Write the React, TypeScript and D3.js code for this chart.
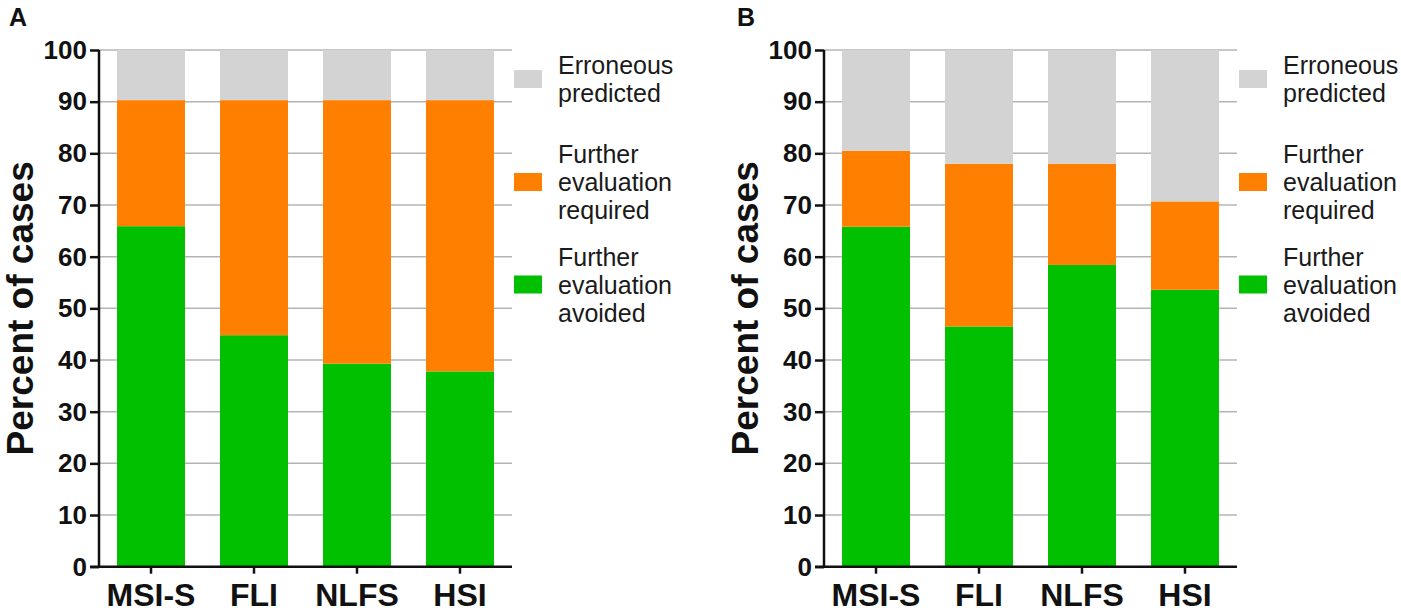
import React, { useRef, useEffect } from 'react';
import * as d3 from 'd3';

const categories = ['MSI-S', 'FLI', 'NLFS', 'HSI'];
const seriesKeys = ['avoided', 'required', 'erroneous'];

const avoidedA = [65.9, 44.8, 39.3, 37.8];
const requiredA = [24.4, 45.5, 51.0, 52.5];
const erroneousA = [9.7, 9.7, 9.7, 9.7];

const avoidedB = [65.8, 46.5, 58.4, 53.6];
const requiredB = [14.7, 31.5, 19.6, 17.1];
const erroneousB = [19.5, 22.0, 22.0, 29.3];

const yTicks = [0, 10, 20, 30, 40, 50, 60, 70, 80, 90, 100];

const legendItems = [
  { key: 'erroneous', lines: ['Erroneous', 'predicted'] },
  { key: 'required', lines: ['Further', 'evaluation', 'required'] },
  { key: 'avoided', lines: ['Further', 'evaluation', 'avoided'] },
];

const panels = [
  { label: 'A', avoided: avoidedA, required: requiredA, erroneous: erroneousA },
  { label: 'B', avoided: avoidedB, required: requiredB, erroneous: erroneousB },
];

const colors: Record<string, string> = {
  avoided: '#00c000',
  required: '#ff8000',
  erroneous: '#d3d3d3',
};

const FONT = '"Liberation Sans", Arial, sans-serif';

const App: React.FC = () => {
  const svgRef = useRef<SVGSVGElement | null>(null);

  useEffect(() => {
    document.body.style.margin = '0';
    const svg = d3.select(svgRef.current);
    svg.selectAll('*').remove();

    const panelWidth = 725;
    const margin = { left: 99, top: 50 };
    const plotW = 413;
    const plotH = 516.7;

    const x = d3.scaleBand<string>().domain(categories).range([0, plotW]).paddingInner(0.34).paddingOuter(0.175);
    const y = d3.scaleLinear().domain([0, 100]).range([plotH, 0]);

    const legendY: Record<string, number> = { erroneous: 79, required: 182, avoided: 284.5 };

    panels.forEach((p, pi) => {
      const rows = categories.map((c, i) => ({
        cat: c,
        avoided: p.avoided[i],
        required: p.required[i],
        erroneous: p.erroneous[i],
      }));
      const stacked = d3.stack<any>().keys(seriesKeys)(rows);

      const root = svg.append('g').attr('transform', `translate(${pi * panelWidth},0)`);

      root
        .append('text')
        .attr('x', 9 + (pi === 1 ? 3 : 0))
        .attr('y', 26)
        .attr('font-family', FONT)
        .attr('font-weight', 'bold')
        .attr('font-size', 25)
        .attr('fill', '#111')
        .text(p.label);

      const g = root.append('g').attr('transform', `translate(${margin.left},${margin.top})`);

      // gridlines
      g.selectAll('line.grid')
        .data(yTicks.filter((t) => t > 0))
        .enter()
        .append('line')
        .attr('x1', 0)
        .attr('x2', plotW)
        .attr('y1', (d) => y(d))
        .attr('y2', (d) => y(d))
        .attr('stroke', '#b4b4b4')
        .attr('stroke-width', 1.5);

      // bars
      g.selectAll('g.layer')
        .data(stacked)
        .enter()
        .append('g')
        .attr('fill', (d) => colors[d.key])
        .selectAll('rect')
        .data((d) => d)
        .enter()
        .append('rect')
        .attr('x', (d: any) => x(d.data.cat)!)
        .attr('width', x.bandwidth())
        .attr('y', (d) => y(d[1]))
        .attr('height', (d) => y(d[0]) - y(d[1]));

      // y axis
      const yAxis = g
        .append('g')
        .call(d3.axisLeft(y).tickValues(yTicks).tickSize(9).tickPadding(3).tickFormat(d3.format('d')));
      yAxis.select('.domain').attr('stroke', '#111').attr('stroke-width', 2.5).attr('d', `M0,${plotH}V0`);
      yAxis.selectAll('.tick line').attr('stroke', '#111').attr('stroke-width', 2.5);
      yAxis
        .selectAll('.tick text')
        .attr('font-family', FONT)
        .attr('font-weight', 'bold')
        .attr('font-size', 26)
        .attr('fill', '#111');

      // x axis
      const xAxis = g
        .append('g')
        .attr('transform', `translate(0,${plotH})`)
        .call(d3.axisBottom(x).tickSize(7).tickPadding(12));
      xAxis.select('.domain').attr('stroke', '#111').attr('stroke-width', 2.5).attr('d', `M-9,0H${plotW}`);
      xAxis.selectAll('.tick line').attr('stroke', '#111').attr('stroke-width', 2.5);
      xAxis
        .selectAll('.tick text')
        .attr('font-family', FONT)
        .attr('font-weight', 'bold')
        .attr('font-size', 32)
        .attr('fill', '#111')
        .attr('dy', 0)
        .attr('y', 39);

      // y title
      root
        .append('text')
        .attr('transform', `translate(33,${margin.top + plotH / 2}) rotate(-90)`)
        .attr('text-anchor', 'middle')
        .attr('font-family', FONT)
        .attr('font-weight', 'bold')
        .attr('font-size', 37)
        .attr('fill', '#111')
        .text('Percent of cases');

      // legend
      const lg = root.append('g').attr('transform', `translate(${margin.left + plotW + 2},0)`);
      legendItems.forEach((item) => {
        const cy = legendY[item.key];
        lg.append('rect')
          .attr('x', 0)
          .attr('y', cy - 9)
          .attr('width', 28)
          .attr('height', 18)
          .attr('fill', colors[item.key]);
        const n = item.lines.length;
        const t = lg
          .append('text')
          .attr('font-family', FONT)
          .attr('font-size', 25)
          .attr('fill', '#1a1a1a');
        item.lines.forEach((line, li) => {
          t.append('tspan')
            .attr('x', 44)
            .attr('y', cy + 9 + (li - (n - 1) / 2) * 28)
            .text(line);
        });
      });
    });
  }, []);

  return <svg ref={svgRef} width={1401} height={608} style={{ display: 'block', background: '#fff' }}></svg>;
};

export default App;
